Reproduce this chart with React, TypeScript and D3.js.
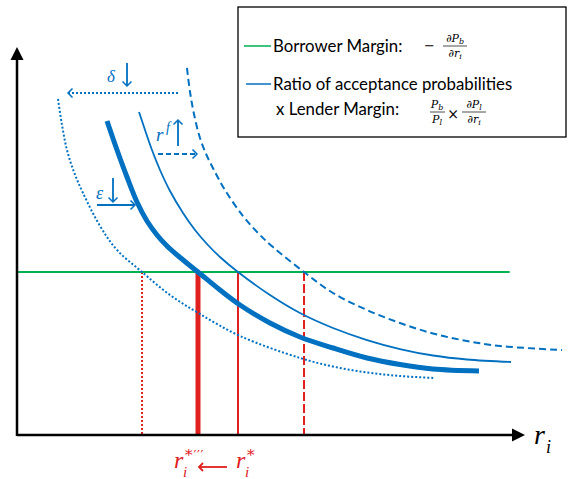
import React from "react";
import * as d3 from "d3";

// Curves (x: rate r_i, y: margin), arbitrary units 0..10
const thickX = [1.772, 1.969, 2.165, 2.362, 2.559, 2.756, 2.953, 3.209, 3.563, 3.996, 4.39, 4.98, 5.571, 6.22, 6.89, 7.539, 8.189, 9.094];
const thickY = [8.093, 7.345, 6.649, 6.005, 5.515, 5.155, 4.871, 4.575, 4.201, 3.737, 3.351, 2.887, 2.526, 2.242, 1.985, 1.817, 1.701, 1.649];

const thinX = [2.402, 2.52, 2.657, 2.815, 3.012, 3.268, 3.504, 3.74, 3.996, 4.35, 4.98, 5.571, 6.22, 6.89, 7.539, 8.189, 8.858, 9.724];
const thinY = [8.325, 7.861, 7.345, 6.83, 6.289, 5.722, 5.284, 4.923, 4.588, 4.201, 3.608, 3.144, 2.758, 2.448, 2.216, 2.049, 1.946, 1.881];

const dashedX = [3.346, 3.406, 3.484, 3.602, 3.74, 3.898, 4.094, 4.449, 4.744, 5.039, 5.65, 6.22, 6.89, 7.539, 8.189, 8.858, 9.508, 10.728];
const dashedY = [9.459, 8.84, 8.273, 7.655, 7.191, 6.778, 6.314, 5.644, 5.206, 4.845, 4.201, 3.66, 3.222, 2.887, 2.616, 2.423, 2.294, 2.191];

const dottedX = [0.807, 0.886, 0.984, 1.122, 1.299, 1.634, 1.969, 2.461, 3.012, 3.602, 4.39, 5.571, 6.22, 6.89, 7.539, 8.209];
const dottedY = [8.66, 7.99, 7.345, 6.778, 6.237, 5.387, 4.768, 4.201, 3.608, 3.119, 2.552, 1.985, 1.765, 1.611, 1.521, 1.469];

// Borrower margin (horizontal) level and extent
const borrowerLevel = 4.201;
const borrowerExtent = [0, 9.7];

// Equilibrium rates (intersections)
const eqRates = [2.461, 3.563, 4.35, 5.65];
const eqStyles = ["dotted", "thick", "thin", "dashed"];

const BLUE = "#0070C0";
const GREEN = "#00B050";
const RED = "#E0201E";

const W = 568;
const H = 479;
const x0 = 17;
const x1 = 525;
const y0 = 435;
const y1 = 47;

const xScale = d3.scaleLinear().domain([0, 10]).range([x0, x1]);
const yScale = d3.scaleLinear().domain([0, 10]).range([y0, y1]);

function pts(xs: number[], ys: number[]): [number, number][] {
  return xs.map((v, i) => [v, ys[i]] as [number, number]);
}

const line = d3
  .line<[number, number]>()
  .x((d) => xScale(d[0]))
  .y((d) => yScale(d[1]))
  .curve(d3.curveCatmullRom.alpha(0.5));

function Chevron({ x, y, dir, size = 5, color = BLUE, sw = 1.5 }: any) {
  let p = "";
  if (dir === "l") p = `M${x + size},${y - size} L${x},${y} L${x + size},${y + size}`;
  if (dir === "r") p = `M${x - size},${y - size} L${x},${y} L${x - size},${y + size}`;
  if (dir === "u") p = `M${x - size},${y + size} L${x},${y} L${x + size},${y + size}`;
  if (dir === "d") p = `M${x - size},${y - size} L${x},${y} L${x + size},${y - size}`;
  return <path d={p} fill="none" stroke={color} strokeWidth={sw} />;
}

const mathFont = "'DejaVu Serif', serif";
const italicFont = "'Liberation Serif', 'DejaVu Serif', serif";
const textFont = "Lato, 'Open Sans', sans-serif";

export default function App() {
  const yLevel = yScale(borrowerLevel);
  const redDash: Record<string, { w: number; dash?: string }> = {
    dotted: { w: 2, dash: "2,2" },
    thick: { w: 5 },
    thin: { w: 2 },
    dashed: { w: 2, dash: "9,3" },
  };
  return (
    <svg
      width={W}
      height={H}
      style={{ position: "absolute", left: 0, top: 0, background: "#fff" }}
    >
      {/* Red vertical lines */}
      {eqRates.map((r, i) => {
        const s = redDash[eqStyles[i]];
        return (
          <line
            key={i}
            x1={xScale(r)}
            x2={xScale(r)}
            y1={yLevel}
            y2={yScale(0)}
            stroke={RED}
            strokeWidth={s.w}
            strokeDasharray={s.dash}
          />
        );
      })}

      {/* Green borrower margin line */}
      <line
        x1={xScale(borrowerExtent[0])}
        x2={xScale(borrowerExtent[1])}
        y1={yLevel}
        y2={yLevel}
        stroke={GREEN}
        strokeWidth={2}
      />

      {/* Blue curves */}
      <path d={line(pts(dottedX, dottedY)) || ""} fill="none" stroke={BLUE} strokeWidth={2} strokeDasharray="2,2" />
      <path d={line(pts(dashedX, dashedY)) || ""} fill="none" stroke={BLUE} strokeWidth={2} strokeDasharray="7,4" />
      <path d={line(pts(thinX, thinY)) || ""} fill="none" stroke={BLUE} strokeWidth={1.8} />
      <path d={line(pts(thickX, thickY)) || ""} fill="none" stroke={BLUE} strokeWidth={5} />

      {/* Axes */}
      <line x1={x0} x2={x1 - 10} y1={y0} y2={y0} stroke="#000" strokeWidth={2.5} />
      <line x1={x0} x2={x0} y1={y0 + 1} y2={y1 + 10} stroke="#000" strokeWidth={2.5} />
      <path d={`M${x1},${y0} L${x1 - 13},${y0 - 6.5} L${x1 - 13},${y0 + 6.5} Z`} fill="#000" />
      <path d={`M${x0},${y1} L${x0 - 6.5},${y1 + 13} L${x0 + 6.5},${y1 + 13} Z`} fill="#000" />

      {/* Axis label r_i */}
      <text x={534} y={444} fontFamily={italicFont} fontStyle="italic" fontSize={28} fill="#000">
        r
      </text>
      <text x={546} y={453} fontFamily={italicFont} fontStyle="italic" fontSize={18} fill="#000">
        i
      </text>

      {/* δ annotation */}
      <text x={107} y={82} fontFamily={italicFont} fontStyle="italic" fontSize={17} fill={BLUE}>
        δ
      </text>
      <line x1={127} x2={127} y1={63} y2={86} stroke={BLUE} strokeWidth={1.8} />
      <Chevron x={127} y={86} dir="d" size={4.5} />
      <line x1={178} x2={69} y1={93} y2={93} stroke={BLUE} strokeWidth={1.8} strokeDasharray="2,2" />
      <Chevron x={68} y={93} dir="l" size={4.5} />

      {/* r^f annotation */}
      <text x={156} y={141} fontFamily={italicFont} fontStyle="italic" fontSize={19} fill={BLUE}>
        r
      </text>
      <text x={166} y={132} fontFamily={italicFont} fontStyle="italic" fontSize={14} fill={BLUE}>
        f
      </text>
      <line x1={178} x2={178} y1={146} y2={121} stroke={BLUE} strokeWidth={1.8} />
      <Chevron x={178} y={120} dir="u" size={4.5} />
      <line x1={158} x2={196} y1={154} y2={154} stroke={BLUE} strokeWidth={1.8} strokeDasharray="5,3" />
      <Chevron x={197} y={154} dir="r" size={4.5} />

      {/* ε annotation */}
      <text x={96} y={199} fontFamily={italicFont} fontStyle="italic" fontSize={18} fill={BLUE}>
        ε
      </text>
      <line x1={113} x2={113} y1={178} y2={202} stroke={BLUE} strokeWidth={1.8} />
      <Chevron x={113} y={202} dir="d" size={4.5} />
      <line x1={97} x2={134} y1={205} y2={205} stroke={BLUE} strokeWidth={1.8} />
      <Chevron x={135} y={205} dir="r" size={4.5} />

      {/* Bottom red labels */}
      <text x={174} y={468} fontFamily={italicFont} fontStyle="italic" fontSize={24} fill={RED}>
        r
      </text>
      <text x={183} y={477} fontFamily={italicFont} fontStyle="italic" fontSize={15} fill={RED}>
        i
      </text>
      <text x={185} y={460} fontFamily={mathFont} fontSize={15} fill={RED}>
        *<tspan dx={1} fontSize={13} letterSpacing={0.5}>′′′</tspan>
      </text>
      <line x1={227} x2={200} y1={467} y2={467} stroke={RED} strokeWidth={1.8} />
      <Chevron x={199} y={467} dir="l" size={4} color={RED} sw={1.8} />
      <text x={236} y={468} fontFamily={italicFont} fontStyle="italic" fontSize={24} fill={RED}>
        r
      </text>
      <text x={245} y={477} fontFamily={italicFont} fontStyle="italic" fontSize={15} fill={RED}>
        i
      </text>
      <text x={247} y={460} fontFamily={mathFont} fontSize={15} fill={RED}>
        *
      </text>

      {/* Legend box */}
      <rect x={238} y={7} width={328} height={130} fill="#fff" stroke="#000" strokeWidth={1.3} />
      <line x1={244} x2={271} y1={46} y2={46} stroke={GREEN} strokeWidth={1.5} />
      <text x={273} y={52} fontFamily={textFont} fontSize={16.8} fill="#000">
        Borrower Margin:
      </text>
      <text x={424} y={50} fontFamily={mathFont} fontSize={13} fill="#000">
        −
      </text>
      <text x={455} y={42} fontFamily={mathFont} fontStyle="italic" fontSize={11} textAnchor="middle" fill="#000">
        ∂P<tspan fontSize={8} dy={2}>b</tspan>
      </text>
      <line x1={443} x2={467} y1={46} y2={46} stroke="#000" strokeWidth={0.7} />
      <text x={455} y={57} fontFamily={mathFont} fontStyle="italic" fontSize={11} textAnchor="middle" fill="#000">
        ∂r<tspan fontSize={8} dy={2}>i</tspan>
      </text>

      <line x1={246} x2={271} y1={84} y2={84} stroke={BLUE} strokeWidth={1.5} />
      <text x={273} y={90} fontFamily={textFont} fontSize={16.8} fill="#000">
        Ratio of acceptance probabilities
      </text>
      <text x={276} y={115} fontFamily={textFont} fontSize={16.8} fill="#000">
        x Lender Margin:
      </text>
      <text x={437} y={108} fontFamily={mathFont} fontStyle="italic" fontSize={11} textAnchor="middle" fill="#000">
        P<tspan fontSize={8} dy={2}>b</tspan>
      </text>
      <line x1={430} x2={445} y1={112} y2={112} stroke="#000" strokeWidth={0.7} />
      <text x={437} y={123} fontFamily={mathFont} fontStyle="italic" fontSize={11} textAnchor="middle" fill="#000">
        P<tspan fontSize={8} dy={2}>l</tspan>
      </text>
      <text x={453} y={119} fontFamily={mathFont} fontSize={14} textAnchor="middle" fill="#000">
        ×
      </text>
      <text x={474} y={108} fontFamily={mathFont} fontStyle="italic" fontSize={11} textAnchor="middle" fill="#000">
        ∂P<tspan fontSize={8} dy={2}>l</tspan>
      </text>
      <line x1={462} x2={486} y1={112} y2={112} stroke="#000" strokeWidth={0.7} />
      <text x={474} y={123} fontFamily={mathFont} fontStyle="italic" fontSize={11} textAnchor="middle" fill="#000">
        ∂r<tspan fontSize={8} dy={2}>i</tspan>
      </text>
    </svg>
  );
}
